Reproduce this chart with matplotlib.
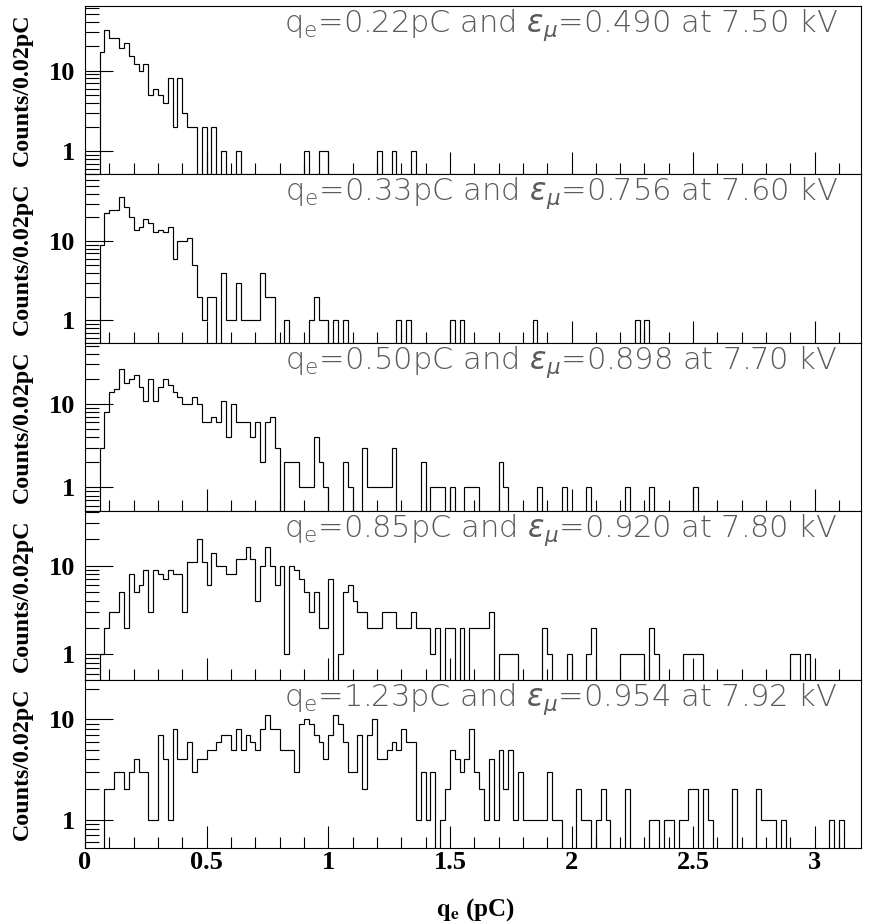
import numpy as np
import matplotlib.pyplot as plt
from matplotlib.ticker import LogLocator, NullFormatter, MultipleLocator

# histograms: 0.02 pC bins starting at 0, counts listed up to last filled bin
bin_width = 0.02
n_bins = 160

counts_750 = [0, 0, 0, 17, 32, 25, 25, 19, 22, 15,
              12, 10, 12, 5, 6, 5, 4, 8, 2, 8,
              3, 2, 2, 0, 2, 0, 2, 0, 1, 0,
              0, 1, 0, 0, 0, 0, 0, 0, 0, 0,
              0, 0, 0, 0, 0, 1, 0, 0, 1, 1,
              0, 0, 0, 0, 0, 0, 0, 0, 0, 0,
              1, 0, 0, 1, 0, 0, 0, 1]

counts_760 = [0, 0, 0, 9, 23, 25, 25, 36, 27, 20,
              14, 15, 19, 17, 13, 14, 13, 15, 6, 10,
              10, 11, 5, 2, 1, 2, 2, 0, 4, 1,
              1, 3, 1, 1, 1, 1, 4, 2, 2, 0,
              0, 1, 0, 0, 0, 0, 1, 2, 1, 1,
              0, 1, 0, 1, 0, 0, 0, 0, 0, 0,
              0, 0, 0, 0, 1, 0, 1, 0, 0, 0,
              0, 0, 0, 0, 0, 1, 0, 1, 0, 0,
              0, 0, 0, 0, 0, 0, 0, 0, 0, 0,
              0, 0, 1, 0, 0, 0, 0, 0, 0, 0,
              0, 0, 0, 0, 0, 0, 0, 0, 0, 0,
              0, 0, 0, 1, 0, 1]

counts_770 = [0, 0, 0, 3, 8, 14, 15, 26, 18, 20,
              22, 16, 11, 20, 11, 16, 20, 17, 14, 12,
              10, 10, 12, 10, 6, 6, 7, 6, 11, 4,
              10, 6, 6, 6, 4, 6, 2, 6, 7, 3,
              0, 2, 2, 2, 1, 1, 1, 4, 2, 1,
              0, 0, 0, 2, 1, 0, 0, 3, 1, 1,
              1, 1, 1, 3, 0, 0, 0, 0, 0, 2,
              0, 1, 1, 1, 0, 1, 0, 0, 1, 1,
              1, 0, 0, 0, 0, 2, 1, 0, 0, 0,
              0, 0, 0, 1, 0, 0, 0, 0, 1, 0,
              0, 0, 0, 1, 0, 0, 0, 0, 0, 0,
              0, 1, 0, 0, 0, 0, 1, 0, 0, 0,
              0, 0, 0, 0, 0, 1]

counts_780 = [0, 0, 0, 1, 2, 3, 3, 5, 2, 8,
              5, 6, 9, 3, 9, 8, 7, 9, 8, 8,
              3, 11, 11, 20, 11, 6, 14, 10, 10, 8,
              8, 12, 12, 16, 12, 4, 10, 16, 10, 6,
              10, 1, 10, 9, 7, 5, 3, 5, 2, 2,
              7, 0, 1, 5, 6, 4, 3, 3, 2, 2,
              2, 3, 3, 3, 2, 2, 2, 3, 2, 2,
              2, 1, 2, 0, 2, 2, 0, 2, 0, 2,
              2, 2, 2, 3, 0, 1, 1, 1, 1, 0,
              0, 0, 0, 0, 2, 1, 0, 0, 0, 1,
              0, 0, 0, 1, 2, 0, 0, 0, 0, 0,
              1, 1, 1, 1, 1, 0, 2, 1, 0, 0,
              0, 0, 0, 1, 1, 1, 1, 0, 0, 0,
              0, 0, 0, 0, 0, 0, 0, 0, 0, 0,
              0, 0, 0, 0, 0, 1, 1, 0, 1]

counts_792 = [0, 0, 0, 0, 2, 2, 3, 3, 2, 3,
              4, 3, 3, 1, 1, 7, 4, 1, 8, 4,
              4, 6, 3, 4, 4, 5, 5, 6, 7, 7,
              5, 8, 5, 7, 6, 5, 8, 11, 8, 8,
              5, 5, 5, 3, 9, 10, 9, 7, 6, 4,
              7, 11, 9, 6, 3, 3, 7, 2, 7, 10,
              4, 4, 5, 6, 5, 8, 6, 6, 1, 3,
              1, 3, 0, 1, 2, 5, 4, 3, 4, 8,
              3, 2, 1, 4, 1, 5, 2, 5, 1, 3,
              1, 1, 1, 1, 1, 3, 1, 1, 0, 0,
              0, 2, 1, 1, 0, 1, 2, 1, 0, 0,
              0, 2, 0, 0, 0, 0, 1, 1, 0, 1,
              1, 0, 1, 1, 2, 2, 0, 2, 1, 0,
              0, 0, 0, 2, 0, 0, 0, 0, 2, 1,
              1, 1, 0, 1, 0, 0, 0, 0, 0, 0,
              0, 0, 0, 1, 0, 1]

all_counts = [counts_750, counts_760, counts_770, counts_780, counts_792]
q_e = ['0.22', '0.33', '0.50', '0.85', '1.23']
eff_mu = ['0.490', '0.756', '0.898', '0.920', '0.954']
hv = ['7.50', '7.60', '7.70', '7.80', '7.92']

x_ticks = [0, 0.5, 1, 1.5, 2, 2.5, 3]
x_tick_labels = ['0', '0.5', '1', '1.5', '2', '2.5', '3']
y_top = [63, 70, 54, 41, 25]
y_bottom = 0.52

serif_bold = dict(family='Liberation Serif', weight='bold')

fig = plt.figure(figsize=(8.69, 9.23), dpi=100)
edges = np.arange(n_bins + 1) * bin_width

W, H = 869.0, 923.0
left = 85 / W
width = 776 / W
top_px = 6.0
panel_px = 168.4

for i, counts in enumerate(all_counts):
    y0 = 1 - (top_px + (i + 1) * panel_px) / H
    ax = fig.add_axes([left, y0, width, panel_px / H])

    c = np.zeros(n_bins)
    c[:len(counts)] = counts
    # empty bins drop below the frame, as in the original
    ax.stairs(np.where(c > 0, c, 1e-3), edges, baseline=None,
              color='black', lw=0.85)

    ax.set_yscale('log')
    ax.set_xlim(0, 3.19)
    ax.set_ylim(y_bottom, y_top[i])

    ax.set_yticks([1, 10], ['1', '10'])
    ax.yaxis.set_minor_locator(LogLocator(base=10, subs=np.arange(2, 10)))
    ax.yaxis.set_minor_formatter(NullFormatter())
    ax.xaxis.set_major_locator(MultipleLocator(0.5))
    ax.xaxis.set_minor_locator(MultipleLocator(0.1))

    ax.tick_params(axis='y', which='major', direction='in', length=20,
                   width=0.8, left=True, right=False, pad=7)
    ax.tick_params(axis='y', which='minor', direction='in', length=10,
                   width=0.8, left=True, right=False)
    ax.tick_params(axis='x', which='major', direction='in', length=16,
                   width=0.8, top=False, pad=2)
    ax.tick_params(axis='x', which='minor', direction='in', length=8,
                   width=0.8, top=False)
    for lab in ax.get_yticklabels():
        lab.set_fontproperties(serif_bold)
        lab.set_fontsize(19)

    if i == len(all_counts) - 1:
        ax.set_xticks(x_ticks, x_tick_labels)
        for lab in ax.get_xticklabels():
            lab.set_fontproperties(serif_bold)
            lab.set_fontsize(19)
    else:
        ax.set_xticklabels([])

    for sp in ax.spines.values():
        sp.set_linewidth(0.8)

    ax.text(0.97, 0.885,
            'q$_{\\mathregular{e}}$=' + q_e[i] + 'pC and $\\varepsilon_{\\mu}$='
            + eff_mu[i] + ' at ' + hv[i] + ' kV',
            transform=ax.transAxes, ha='right', va='center', fontsize=22,
            family='DejaVu Sans', weight='light', color='#5a5a5a',
            math_fontfamily='dejavusans')

    fig.text(22 / W, y0 + panel_px / H / 2, 'Counts/0.02pC', rotation=90,
             ha='center', va='center', fontsize=17.3, **serif_bold)

fig.text(475 / W, 1 - 910 / H, r'$\mathbf{q}_{\mathbf{e}}$ (pC)',
         ha='center', va='center', fontsize=18, math_fontfamily='stix',
         **serif_bold)

fig.savefig('out.png', dpi=100)
